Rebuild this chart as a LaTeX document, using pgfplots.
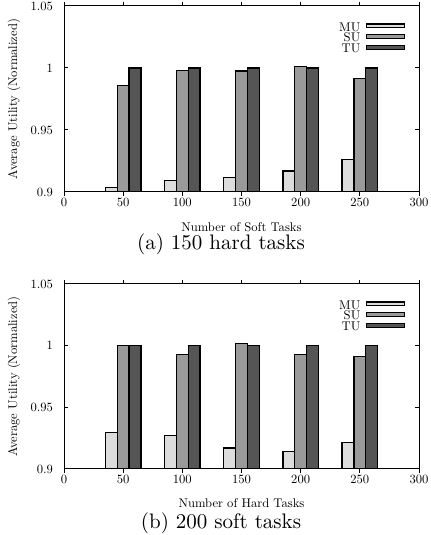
\documentclass[border=0pt]{standalone}
\usepackage{fontspec}
\usepackage{pgfplots}
\pgfplotsset{compat=1.18}
\newfontfamily\lmten{lmroman10-regular.otf}
\definecolor{mu}{HTML}{DCDCDC}
\definecolor{su}{HTML}{9A9A9A}
\definecolor{tu}{HTML}{555555}
\newcommand{\smallfont}{\lmten\fontsize{6.3}{7}\selectfont}
\pgfplotsset{
  barleg/.style={legend image code/.code={\draw[##1] (0pt,0.5pt) rectangle (19pt,2.3pt);}},
  myaxis/.style={
    scale only axis, width=177.5pt, height=93pt,
    xmin=0, xmax=300, ymin=0.9, ymax=1.05,
    xtick={0,50,100,150,200,250,300},
    ytick={0.9,0.95,1,1.05},
    yticklabels={0.9,0.95,1,1.05},
    /pgf/number format/assume math mode=true,
    tick align=inside, major tick length=2pt,
    tick style={black, line width=0.5pt},
    axis line style={line width=0.5pt},
    ybar=0pt, bar width=10,
    tick label style={font=\smallfont},
    xticklabel style={yshift=2.5pt},
    yticklabel style={xshift=-2pt},
    label style={font=\smallfont},
    xlabel style={at={(axis description cs:0.5,-0.187)}, anchor=center},
    ylabel style={at={(axis description cs:-0.141,0.5)}, anchor=center},
    ylabel={Average Utility (Normalized)},
    legend style={at={(axis description cs:1,1)}, anchor=north east, xshift=-6.6pt, yshift=-8.5pt,
      draw=none, fill=none, font=\smallfont, inner sep=0pt,
      nodes={inner sep=0pt, text height=3.8pt, text depth=1.2pt},
      column sep=3pt, row sep=0.3pt},
    legend plot pos=right, legend cell align=right,
  }
}
\begin{document}
\begin{tikzpicture}
\useasboundingbox (0,0) rectangle (215pt,267.5pt);
\begin{axis}[myaxis, at={(32pt,171.5pt)}, anchor=south west, xlabel={Number of Soft Tasks}]
\addplot[draw=black, line width=0.6pt, fill=mu, barleg] coordinates {(50,0.9035) (100,0.909) (150,0.912) (200,0.917) (250,0.926)};
\addplot[draw=black, line width=0.6pt, fill=su, barleg] coordinates {(50,0.986) (100,0.998) (150,0.9975) (200,1.0015) (250,0.9916)};
\addplot[draw=black, line width=0.6pt, fill=tu, barleg] coordinates {(50,1) (100,1) (150,1) (200,1) (250,1)};
\legend{MU,SU,TU}
\end{axis}
\begin{axis}[myaxis, height=92.5pt, at={(32pt,33pt)}, anchor=south west, xlabel={Number of Hard Tasks}]
\addplot[draw=black, line width=0.6pt, fill=mu, barleg] coordinates {(50,0.9295) (100,0.927) (150,0.917) (200,0.914) (250,0.9217)};
\addplot[draw=black, line width=0.6pt, fill=su, barleg] coordinates {(50,1.0) (100,0.993) (150,1.0018) (200,0.993) (250,0.9915)};
\addplot[draw=black, line width=0.6pt, fill=tu, barleg] coordinates {(50,1) (100,1) (150,1) (200,1) (250,1)};
\legend{MU,SU,TU}
\end{axis}
\node[font=\fontsize{10.5}{12}\selectfont, anchor=center] at (110.5pt,145.5pt) {(a) 150 hard tasks};
\node[font=\fontsize{10.5}{12}\selectfont, anchor=center] at (110.5pt,6pt) {(b) 200 soft tasks};
\end{tikzpicture}
\end{document}
